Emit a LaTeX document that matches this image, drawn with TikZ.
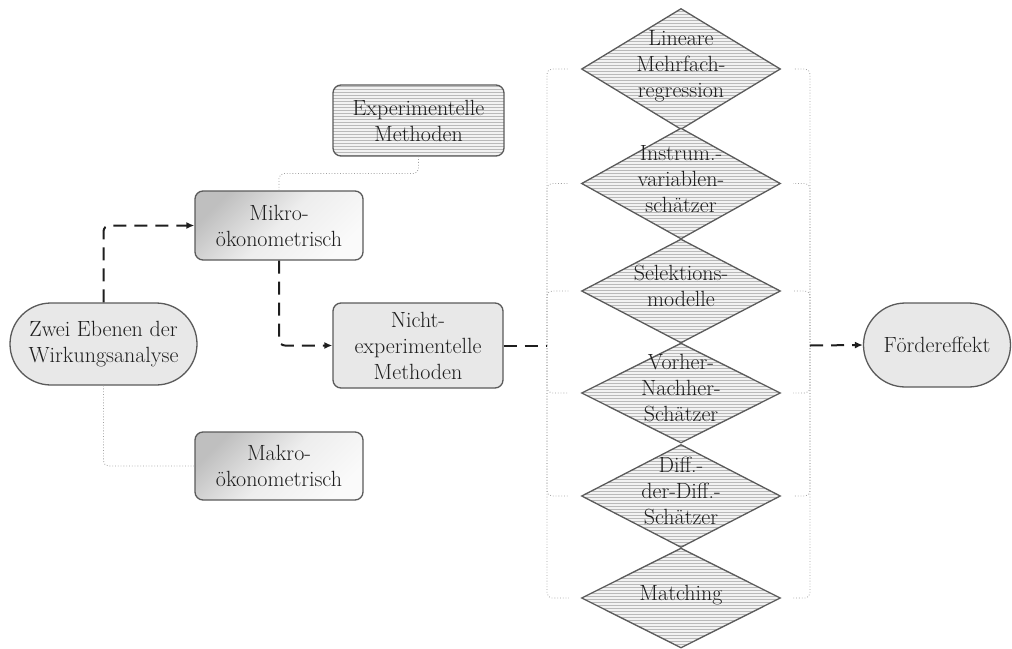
\documentclass[tikz,border=0pt]{standalone}
\usetikzlibrary{shapes.geometric,shapes.misc,arrows.meta,patterns,calc}
\definecolor{bord}{HTML}{5A5A5A}
\definecolor{boxfill}{HTML}{E8E8E8}
\definecolor{ink}{HTML}{1E1E1E}
\newcommand{\dtxt}[1]{\raisebox{-5.5pt}{\smash{\begin{tabular}{@{}c@{}}#1\end{tabular}}}}
\tikzset{
  base/.style={draw=bord, line width=1.3pt, text=ink, font=\fontsize{22}{26}\selectfont, align=center, inner sep=0pt},
  rbox/.style={base, rectangle, rounded corners=8pt},
  plainbox/.style={rbox, fill=boxfill},
  shadebox/.style={rbox, top color=gray!50, bottom color=gray!4, middle color=gray!14, shading angle=45},
  linebox/.style={rbox, preaction={fill=gray!10}, pattern=horizontal lines, pattern color=gray!55},
  pill/.style={base, rounded rectangle, fill=boxfill},
  dia/.style={base, diamond, minimum width=199pt, preaction={fill=gray!10}, pattern=horizontal lines, pattern color=gray!55},
  dashline/.style={draw=ink, line width=2pt, dash pattern=on 13pt off 8pt, rounded corners=6pt},
  dasharrow/.style={dashline, -{Latex[length=8pt,width=7pt]}},
  thinline/.style={draw=gray!75, line width=0.8pt, dotted, rounded corners=5pt},
}
\begin{document}
\begin{tikzpicture}[x=1pt,y=-1pt]
\useasboundingbox (0,0) rectangle (1012,648);

% diamonds
\node[dia, minimum height=121pt] (d1) at (681,69) {\dtxt{Lineare\\Mehrfach-\\regression}};
\node[dia, minimum height=111pt] (d2) at (681,183.5) {\dtxt{Instrum.-\\variablen-\\schätzer}};
\node[dia, minimum height=104pt] (d3) at (681,291) {\dtxt{Selektions-\\modelle}};
\node[dia, minimum height=100pt] (d4) at (681,393) {\dtxt{Vorher-\\Nachher-\\Schätzer}};
\node[dia, minimum height=103pt] (d5) at (681,496) {\dtxt{Diff.-\\der-Diff.-\\Schätzer}};
\node[dia, minimum height=100pt] (d6) at (681,598) {\dtxt{Matching}};

% boxes
\node[pill, minimum width=187pt, minimum height=82pt] (zwei) at (103.5,344) {Zwei Ebenen der\\Wirkungsanalyse};
\node[shadebox, minimum width=168pt, minimum height=69pt] (mikro) at (279,225.5) {Mikro-\\ökonometrisch};
\node[linebox, minimum width=171pt, minimum height=71pt] (exp) at (418.5,120.5) {Experimentelle\\Methoden};
\node[plainbox, minimum width=170pt, minimum height=85pt] (nicht) at (418,345.5) {Nicht-\\experimentelle\\Methoden};
\node[shadebox, minimum width=168pt, minimum height=68pt] (makro) at (279,466) {Makro-\\ökonometrisch};
\node[pill, minimum width=147pt, minimum height=84pt] (foerd) at (937,345) {Fördereffekt};

\coordinate (jl) at (547,345.5);
\coordinate (jr) at (810,345.5);

% brackets
\foreach \d in {d1,d2,d3,d4,d5,d6}{
  \draw[thinline] (jl) |- ([xshift=-12pt]\d.west);
  \draw[thinline] (jr) |- ([xshift=12pt]\d.east);
}

% connectors
\draw[dasharrow] (zwei.north) |- (mikro.west);
\draw[dasharrow] (mikro.south) |- (nicht.west);
\draw[thinline] (zwei.south) |- (makro.west);
\draw[thinline] (mikro.north) |- ($(mikro.north)!0.5!(exp.south)$) -| (exp.south);
\draw[dashline] (nicht.east) -- (jl);
\draw[dasharrow] (jr) -- (foerd.west);
\end{tikzpicture}
\end{document}
